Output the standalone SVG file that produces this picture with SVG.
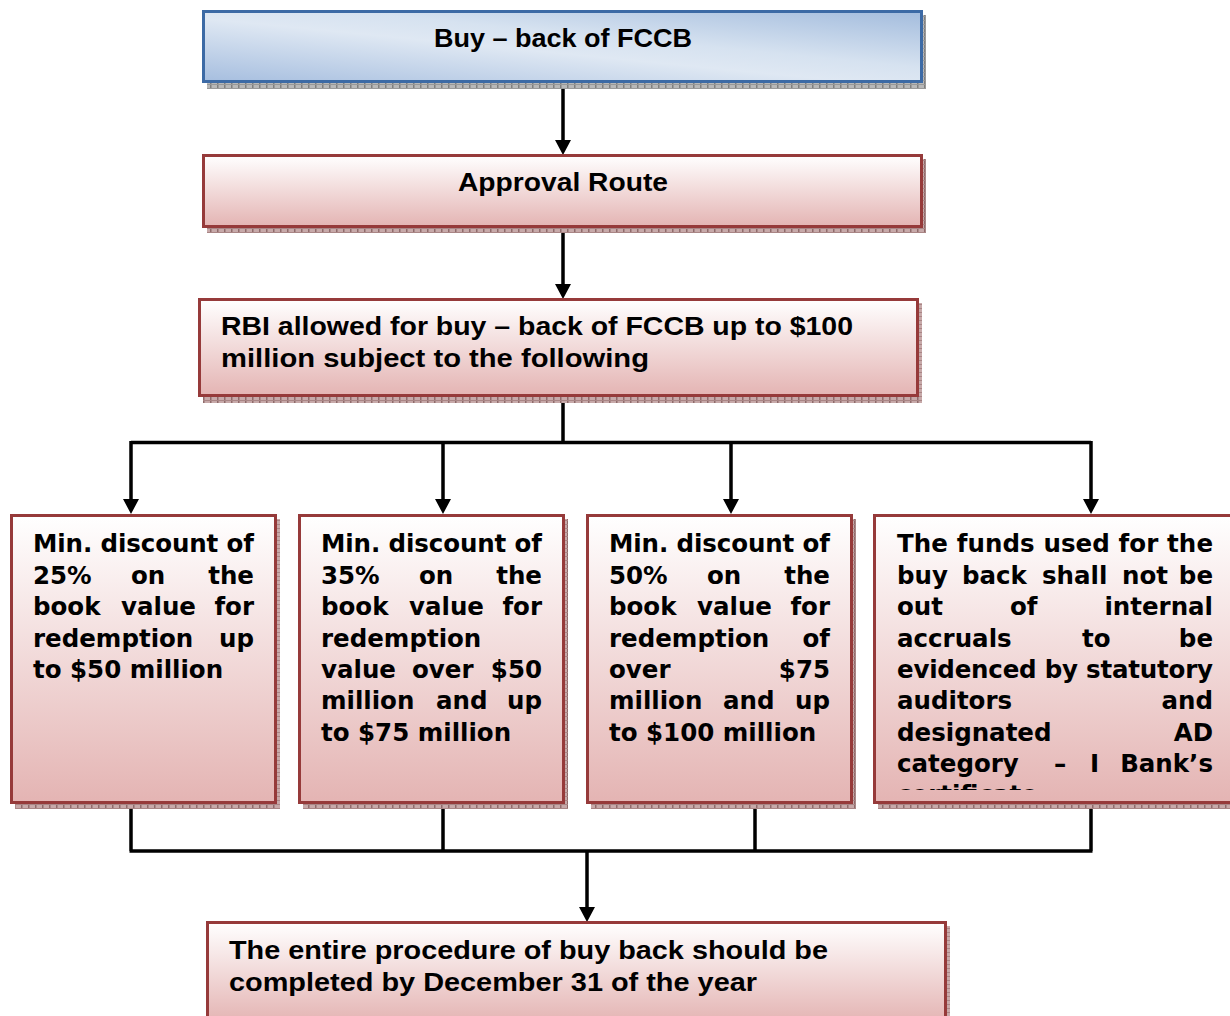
<svg xmlns="http://www.w3.org/2000/svg" width="1230" height="1016" viewBox="0 0 1230 1016">
<defs>
<linearGradient id="gRed" x1="0" y1="0" x2="0" y2="1">
<stop offset="0" stop-color="#ffffff"/>
<stop offset="1" stop-color="#e4b4b3"/>
</linearGradient>
<linearGradient id="gBlue" x1="0" y1="1" x2="1" y2="0">
<stop offset="0" stop-color="#a6bedf"/>
<stop offset="0.45" stop-color="#dfe8f3"/>
<stop offset="0.6" stop-color="#d6e2f0"/>
<stop offset="1" stop-color="#a3bcdd"/>
</linearGradient>
<pattern id="shRed" width="7" height="4" patternUnits="userSpaceOnUse">
<rect width="7" height="4" fill="#c7a9a9"/>
<rect width="1.5" height="4" fill="#8f6b6b"/>
<rect y="0" width="7" height="1" fill="#a98585"/>
</pattern>
<pattern id="shBlue" width="7" height="4" patternUnits="userSpaceOnUse">
<rect width="7" height="4" fill="#b8b8b8"/>
<rect width="1.5" height="4" fill="#7f7f7f"/>
<rect y="0" width="7" height="1" fill="#999999"/>
</pattern>
<marker id="arr" markerUnits="userSpaceOnUse" markerWidth="16" markerHeight="15" refX="8" refY="15" orient="auto-start-reverse" viewBox="0 0 16 15">
<path d="M0,0 L16,0 L8,15 Z" fill="#000"/>
</marker>
<clipPath id="clipD"><rect x="876" y="516" width="354" height="274"/></clipPath>
<style>
.red{fill:url(#gRed);stroke:#963a3a;stroke-width:3}
.blue{fill:url(#gBlue);stroke:#3c6aa5;stroke-width:3}
.shr{fill:url(#shRed)}
.shb{fill:url(#shBlue)}
.hd{font-family:"Liberation Sans",Arial,sans-serif;font-weight:bold;font-size:25px;fill:#000}
.bd{font-family:"DejaVu Sans","Liberation Sans",sans-serif;font-weight:bold;font-size:24.5px;fill:#000}
.e{text-anchor:end}
.con{fill:none;stroke:#000;stroke-width:3.5}
.arrow{marker-end:url(#arr)}
</style>
</defs>

<g id="connectors">
<path class="con" d="M563,82 V141"/>
<path d="M555,140 L571,140 L563,155 Z" fill="#000"/>
<path class="con" d="M563,227 V285"/>
<path d="M555,284 L571,284 L563,299 Z" fill="#000"/>
<path class="con" d="M563,396 V442.5 M131,442.5 H1091"/>
<path class="con" d="M131,441 V500 M443,441 V500 M731,441 V500 M1091,441 V500"/>
<path d="M123,499 L139,499 L131,514 Z M435,499 L451,499 L443,514 Z M723,499 L739,499 L731,514 Z M1083,499 L1099,499 L1091,514 Z" fill="#000"/>
<path class="con" d="M131,803 V851 M443,803 V851 M755,803 V851 M1091,803 V851 M129.5,851 H1092.5"/>
<path class="con" d="M587,851 V908"/>
<path d="M579,907 L595,907 L587,922 Z" fill="#000"/>
</g>

<g id="node-buyback">
<rect class="shb" x="207" y="15" width="719" height="74"/>
<rect class="blue" x="203.5" y="11.5" width="718" height="70"/>
<text class="hd" x="563" y="47" text-anchor="middle" textLength="258" lengthAdjust="spacingAndGlyphs">Buy – back of FCCB</text>
</g>

<g id="node-approval">
<rect class="shr" x="207" y="159" width="719" height="74"/>
<rect class="red" x="203.5" y="155.5" width="718" height="71"/>
<text class="hd" x="563" y="191" text-anchor="middle" textLength="210" lengthAdjust="spacingAndGlyphs">Approval Route</text>
</g>

<g id="node-rbi">
<rect class="shr" x="203" y="303" width="719" height="100"/>
<rect class="red" x="199.5" y="299.5" width="718" height="96"/>
<text class="hd" x="221" y="335" textLength="632" lengthAdjust="spacingAndGlyphs">RBI allowed for buy – back of FCCB up to $100</text>
<text class="hd" x="221" y="367" textLength="428" lengthAdjust="spacingAndGlyphs">million subject to the following</text>
</g>

<g id="node-25">
<rect class="shr" x="15" y="519" width="265" height="290"/>
<rect class="red" x="11.5" y="515.5" width="264" height="287"/>
<text class="bd" x="33" y="552" textLength="221" lengthAdjust="spacing">Min. discount of</text>
<text class="bd" x="33" y="584">25%</text><text class="bd" x="131" y="584">on</text><text class="bd e" x="254" y="584">the</text>
<text class="bd" x="33" y="615">book</text><text class="bd" x="121" y="615">value</text><text class="bd e" x="254" y="615">for</text>
<text class="bd" x="33" y="647">redemption</text><text class="bd e" x="254" y="647">up</text>
<text class="bd" x="33" y="678">to $50 million</text>
</g>

<g id="node-35">
<rect class="shr" x="303" y="519" width="265" height="290"/>
<rect class="red" x="299.5" y="515.5" width="264" height="287"/>
<text class="bd" x="321" y="552" textLength="221" lengthAdjust="spacing">Min. discount of</text>
<text class="bd" x="321" y="584">35%</text><text class="bd" x="419" y="584">on</text><text class="bd e" x="542" y="584">the</text>
<text class="bd" x="321" y="615">book</text><text class="bd" x="409" y="615">value</text><text class="bd e" x="542" y="615">for</text>
<text class="bd" x="321" y="647">redemption</text>
<text class="bd" x="321" y="678">value</text><text class="bd" x="412" y="678">over</text><text class="bd e" x="542" y="678">$50</text>
<text class="bd" x="321" y="709">million</text><text class="bd" x="436" y="709">and</text><text class="bd e" x="542" y="709">up</text>
<text class="bd" x="321" y="741">to $75 million</text>
</g>

<g id="node-50">
<rect class="shr" x="591" y="519" width="265" height="290"/>
<rect class="red" x="587.5" y="515.5" width="264" height="287"/>
<text class="bd" x="609" y="552" textLength="221" lengthAdjust="spacing">Min. discount of</text>
<text class="bd" x="609" y="584">50%</text><text class="bd" x="707" y="584">on</text><text class="bd e" x="830" y="584">the</text>
<text class="bd" x="609" y="615">book</text><text class="bd" x="697" y="615">value</text><text class="bd e" x="830" y="615">for</text>
<text class="bd" x="609" y="647">redemption</text><text class="bd e" x="830" y="647">of</text>
<text class="bd" x="609" y="678">over</text><text class="bd e" x="830" y="678">$75</text>
<text class="bd" x="609" y="709">million</text><text class="bd" x="723" y="709">and</text><text class="bd e" x="830" y="709">up</text>
<text class="bd" x="609" y="741">to $100 million</text>
</g>

<g id="node-funds">
<rect class="shr" x="878" y="519" width="370" height="290"/>
<rect class="red" x="874.5" y="515.5" width="370" height="287"/>
<g clip-path="url(#clipD)">
<text class="bd" x="897" y="552" textLength="316" lengthAdjust="spacing">The funds used for the</text>
<text class="bd" x="897" y="584">buy</text><text class="bd" x="962" y="584">back</text><text class="bd" x="1042" y="584">shall</text><text class="bd" x="1122" y="584">not</text><text class="bd e" x="1213" y="584">be</text>
<text class="bd" x="897" y="615">out</text><text class="bd" x="1010" y="615">of</text><text class="bd e" x="1213" y="615">internal</text>
<text class="bd" x="897" y="647">accruals</text><text class="bd" x="1082" y="647">to</text><text class="bd e" x="1213" y="647">be</text>
<text class="bd" x="897" y="678" textLength="316" lengthAdjust="spacing">evidenced by statutory</text>
<text class="bd" x="897" y="709">auditors</text><text class="bd e" x="1213" y="709">and</text>
<text class="bd" x="897" y="741">designated</text><text class="bd e" x="1213" y="741">AD</text>
<text class="bd" x="897" y="772">category</text><text class="bd" x="1054" y="772">–</text><text class="bd" x="1090" y="772">I</text><text class="bd e" x="1213" y="772">Bank’s</text>
<text class="bd" x="897" y="803">certificate</text>
</g>
</g>

<g id="node-procedure">
<rect class="shr" x="211" y="926" width="739" height="100"/>
<rect class="red" x="207.5" y="922.5" width="738" height="100"/>
<text class="hd" x="229" y="959" textLength="599" lengthAdjust="spacingAndGlyphs">The entire procedure of buy back should be</text>
<text class="hd" x="229" y="991" textLength="528" lengthAdjust="spacingAndGlyphs">completed by December 31 of the year</text>
</g>
</svg>
